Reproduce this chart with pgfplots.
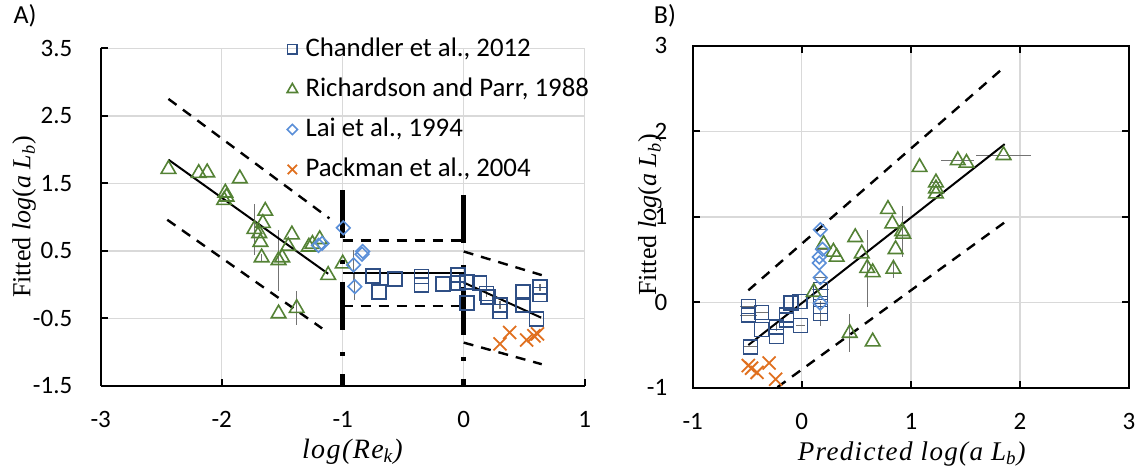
\documentclass[border=0pt]{standalone}
\usepackage{fontspec}
\setmainfont{Carlito}
\newfontfamily\serif{Liberation Serif}
\newfontfamily\labfont{Liberation Serif}[LetterSpace=5.0]
\usepackage{pgfplots}
\usepackage{pgfplotstable}
\pgfplotsset{compat=1.18}
\definecolor{cSq}{HTML}{2F4F85}
\definecolor{cTri}{HTML}{548235}
\definecolor{cDia}{HTML}{5B8FD8}
\definecolor{cX}{HTML}{E0701F}
\definecolor{cGrid}{HTML}{D9D9D9}

% Panel A data
\pgfplotstableread{
x y ex ey
-0.75 0.13 0 0
-0.70 -0.11 0 0
-0.57 0.08 0 0
-0.35 0.12 0 0
-0.35 -0.01 0 0
-0.17 0.01 0 0
-0.045 0.14 0 0
-0.045 0.02 0 0
0.025 0.04 0 0
0.025 -0.27 0 0
0.13 0.02 0 0
0.19 -0.13 0 0.05
0.20 -0.18 0 0
0.30 -0.30 0 0.06
0.30 -0.40 0 0
0.49 -0.11 0 0
0.49 -0.30 0 0
0.63 -0.04 0 0.05
0.63 -0.15 0 0
0.60 -0.51 0 0
}\sqA
\pgfplotstableread{
x y ex ey
-2.44 1.71 0 0
-2.19 1.65 0 0
-2.12 1.66 0 0
-1.85 1.57 0 0
-1.97 1.36 0 0
-1.96 1.30 0 0
-1.98 1.25 0 0
-1.64 1.09 0 0
-1.66 0.91 0 0
-1.73 0.82 0 0.38
-1.69 0.76 0 0
-1.68 0.63 0 0
-1.67 0.40 0 0.06
-1.53 0.36 0 0.45
-1.50 0.40 0 0
-1.42 0.74 0 0
-1.45 0.57 0 0
-1.28 0.56 0 0
-1.25 0.60 0 0
-1.19 0.67 0 0
-1.12 0.14 0 0
-1.53 -0.43 0 0
-1.38 -0.35 0 0.25
-1.00 0.31 0 0
}\triA
\pgfplotstableread{
x y ex ey
-0.995 0.84 0 0
-1.17 0.61 0 0
-1.20 0.58 0 0
-0.91 0.29 0 0.22
-0.835 0.49 0 0
-0.84 0.45 0 0
-0.90 -0.03 0 0.2
}\diaA
\pgfplotstableread{
x y
0.30 -0.88
0.38 -0.71
0.52 -0.82
0.58 -0.76
0.61 -0.73
}\xA

% Panel B data
\pgfplotstableread{
x y ex ey
-0.49 -0.05 0.08 0
-0.49 -0.15 0.08 0
-0.47 -0.52 0.06 0
-0.37 -0.12 0.06 0
-0.37 -0.32 0 0
-0.23 -0.29 0 0.05
-0.23 -0.40 0 0
-0.14 -0.15 0 0
-0.14 -0.21 0 0
-0.10 -0.01 0 0
-0.015 0.01 0 0
-0.01 -0.27 0.04 0
0.17 0.15 0.08 0
0.17 0.07 0 0
0.17 -0.05 0 0
0.17 -0.13 0 0.15
}\sqB
\pgfplotstableread{
x y ex ey
0.20 0.68 0 0
0.29 0.59 0 0
0.32 0.53 0 0
0.49 0.76 0 0
0.55 0.57 0 0
0.60 0.40 0 0.45
0.65 0.35 0 0
0.11 0.12 0 0
0.44 -0.36 0 0.22
0.65 -0.46 0 0
1.08 1.58 0 0
1.43 1.66 0.15 0
1.51 1.63 0 0
1.85 1.72 0.25 0
1.23 1.40 0.05 0
1.23 1.33 0 0
1.23 1.27 0 0
0.79 1.09 0 0
0.83 0.92 0 0
0.92 0.83 0 0.30
0.93 0.80 0 0
0.86 0.62 0 0
0.84 0.39 0 0.1
}\triB
\pgfplotstableread{
x y ex ey
0.17 0.85 0.05 0
0.19 0.62 0.05 0
0.16 0.53 0 0
0.16 0.46 0 0
0.17 0.29 0.05 0
0.17 -0.01 0 0
}\diaB
\pgfplotstableread{
x y
-0.49 -0.74
-0.46 -0.77
-0.41 -0.82
-0.30 -0.71
-0.24 -0.90
}\xB

\pgfplotsset{
  base/.style={
    scale only axis,
    grid=major,
    grid style={draw=cGrid, line width=0.7pt},
    tick align=inside,
    major tick length=3.5pt,
    tick style={black, line width=0.9pt},
    axis line style={black, line width=0.9pt},
    ticklabel style={font=\fontsize{12.5}{14}\selectfont, inner sep=1pt},
    xticklabel style={yshift=-11.5pt},
    clip=true,
  },
  ebar/.style={error bars/.cd, x dir=both, x explicit, y dir=both, y explicit, error mark=none,
    error bar style={draw=black!55, line width=0.6pt}},
  sqst/.style={only marks, mark=square, mark size=3.5pt, mark options={draw=cSq, line width=0.8pt, fill=none},
    legend image post style={mark size=2.4pt}, ebar},
  trist/.style={only marks, mark=triangle, mark size=4.2pt, mark options={draw=cTri, line width=0.8pt, fill=none},
    legend image post style={mark size=3pt}, ebar},
  diast/.style={only marks, mark=square, mark size=2.4pt, mark options={draw=cDia, line width=0.8pt, fill=none, rotate=45},
    legend image post style={mark size=1.8pt}, ebar},
  xst/.style={only marks, mark=x, mark size=4.6pt, mark options={draw=cX, line width=0.9pt},
    legend image post style={mark size=3.3pt}},
  fitsolid/.style={black, line width=1pt, no marks, forget plot},
  fitdash/.style={black, line width=1.2pt, dash pattern=on 5pt off 4pt, no marks, forget plot},
  fitthick/.style={black, line width=2.5pt, dash pattern=on 24pt off 11pt on 2pt off 9pt, no marks, forget plot},
}

\begin{document}
\begin{tikzpicture}
\useasboundingbox (0,0) rectangle (572pt,234pt);

% ---------------- Panel A ----------------
\begin{axis}[base,
  at={(50.35pt,41.1pt)}, anchor=south west,
  width=242pt, height=168.75pt,
  xmin=-3, xmax=1, ymin=-1.5, ymax=3.5,
  axis x line*=bottom, axis y line*=left,
  yticklabel style={xshift=-13pt},
  xtick={-3,-2,-1,0,1}, xticklabels={-3,-2,-1,0,1},
  ytick={-1.5,-0.5,0.5,1.5,2.5,3.5}, yticklabels={-1.5,-0.5,0.5,1.5,2.5,3.5},
  xlabel={\labfont\itshape log(Re\textsubscript{k})},
  xlabel style={at={(axis description cs:0.52,-0.214)}, anchor=base, inner sep=0pt, font=\fontsize{14}{16}\selectfont},
  ylabel={\serif Fitted \textit{log}(\textit{a L}\textsubscript{\textit{b}})},
  ylabel style={at={(axis description cs:-0.158,0.5)}, anchor=center, rotate=0, font=\fontsize{13}{15}\selectfont},
  legend style={at={(rel axis cs:0.372,1.054)}, anchor=north west, draw=none, fill=none,
    font=\fontsize{13.4}{15}\selectfont, row sep=5pt,
    nodes={inner sep=1pt, text height=10pt, text depth=3pt},
    /tikz/every odd column/.style={column sep=3pt}},
  legend cell align=left,
]
\addplot+[sqst] table[x=x,y=y,x error=ex,y error=ey] {\sqA};
\addlegendentry{Chandler et al., 2012}
\addplot+[trist] table[x=x,y=y,x error=ex,y error=ey] {\triA};
\addlegendentry{Richardson and Parr, 1988}
\addplot+[diast] table[x=x,y=y,x error=ex,y error=ey] {\diaA};
\addlegendentry{Lai et al., 1994}
\addplot+[xst] table[x=x,y=y] {\xA};
\addlegendentry{Packman et al., 2004}

\addplot[fitsolid] coordinates {(-2.44,1.85) (-1.12,0.16)};
\addplot[fitdash] coordinates {(-2.44,2.75) (-1.11,0.98)};
\addplot[fitdash] coordinates {(-2.45,0.96) (-1.17,-0.65)};
\addplot[fitsolid] coordinates {(-1,0.17) (0,0.17)};
\addplot[fitdash] coordinates {(-1,0.65) (0,0.65)};
\addplot[fitdash] coordinates {(-1,-0.32) (0,-0.32)};
\addplot[fitsolid] coordinates {(0,0.03) (0.64,-0.49)};
\addplot[fitdash] coordinates {(0,0.49) (0.645,0.14)};
\addplot[fitdash] coordinates {(0,-0.86) (0.645,-1.18)};
\addplot[fitthick] coordinates {(-1,1.40) (-1,-1.5)};
\addplot[fitthick] coordinates {(0,1.33) (0,-1.5)};
\end{axis}

% ---------------- Panel B ----------------
\begin{axis}[base,
  at={(346.35pt,40.1pt)}, anchor=south west,
  width=218.15pt, height=171pt,
  xmin=-1, xmax=3, ymin=-1, ymax=3,
  yticklabel style={xshift=-11.5pt},
  xtick={-1,0,1,2,3}, xticklabels={-1,0,1,2,3},
  ytick={-1,0,1,2,3}, yticklabels={-1,0,1,2,3},
  xlabel={\labfont\itshape Predicted log(a L\textsubscript{b})},
  xlabel style={at={(axis description cs:0.502,-0.213)}, anchor=base, inner sep=0pt, font=\fontsize{13.5}{16}\selectfont},
  ylabel={\serif Fitted \textit{log}(\textit{a L}\textsubscript{\textit{b}})},
  ylabel style={at={(axis description cs:-0.098,0.505)}, anchor=center, rotate=0, font=\fontsize{13}{15}\selectfont},
]
\addplot+[sqst] table[x=x,y=y,x error=ex,y error=ey] {\sqB};
\addplot+[trist] table[x=x,y=y,x error=ex,y error=ey] {\triB};
\addplot+[diast] table[x=x,y=y,x error=ex,y error=ey] {\diaB};
\addplot+[xst] table[x=x,y=y] {\xB};
\addplot[fitsolid] coordinates {(-0.49,-0.50) (1.86,1.85)};
\addplot[fitdash] coordinates {(-0.49,0.14) (1.865,2.76)};
\addplot[fitdash] coordinates {(-0.49,-1.24) (1.865,0.94)};
\end{axis}

\node[anchor=center, font=\fontsize{13}{15}\selectfont] at (12.5pt,226pt) {A)};
\node[anchor=center, font=\fontsize{13}{15}\selectfont] at (332.5pt,226pt) {B)};
\end{tikzpicture}
\end{document}
